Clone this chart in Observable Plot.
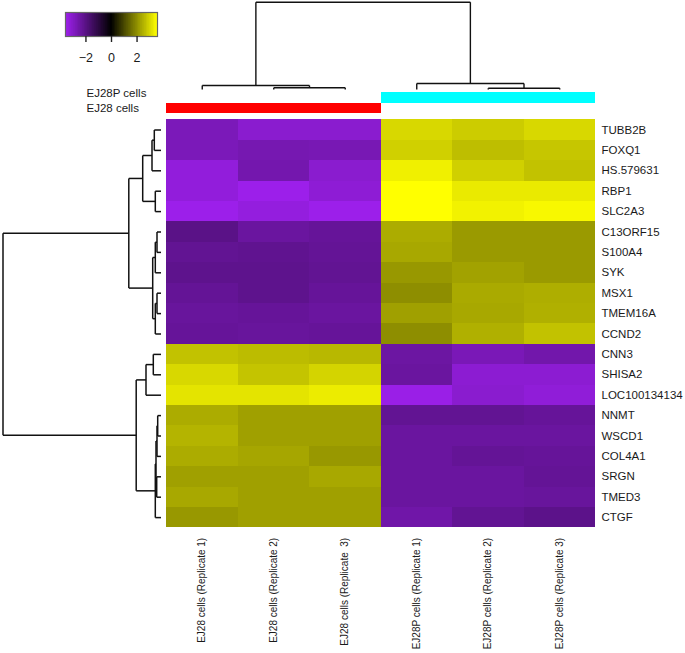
<!DOCTYPE html>
<html><head><meta charset="utf-8">
<script src="https://cdn.jsdelivr.net/npm/d3@7"></script>
<script src="https://cdn.jsdelivr.net/npm/@observablehq/plot@0.6"></script>
<style>
body{margin:0;background:#fff;}
#chart{position:relative;width:685px;height:653px;font-family:"Liberation Sans",Arial,sans-serif;}
#chart svg{position:absolute;left:0;top:0;}
#chart svg text{white-space:pre;}
</style></head><body><div id="chart"></div>
<script>
const W = 685, H = 653;
const FONT = "Liberation Sans, Arial, sans-serif";

const columns = ["EJ28 cells (Replicate 1)", "EJ28 cells (Replicate 2)", "EJ28 cells (Replicate  3)",
                 "EJ28P cells (Replicate 1)", "EJ28P cells (Replicate 2)", "EJ28P cells (Replicate 3)"];
const genes = ["TUBB2B","FOXQ1","HS.579631","RBP1","SLC2A3","C13ORF15","S100A4","SYK","MSX1","TMEM16A",
               "CCND2","CNN3","SHISA2","LOC100134134","NNMT","WSCD1","COL4A1","SRGN","TMED3","CTGF"];

const ej28_rep1  = [-2.77,-2.77,-3.29,-3.29,-3.51,-2.03,-2.21,-2.12,-2.25,-2.34,-2.30, 2.74, 3.05, 3.22, 2.43, 2.54, 2.43, 2.26, 2.37, 2.15];
const ej28_rep2  = [-3.11,-2.66,-2.61,-3.51,-3.33,-2.39,-2.16,-2.12,-2.12,-2.30,-2.34, 2.65, 2.77, 3.22, 2.26, 2.26, 2.34, 2.26, 2.26, 2.26];
const ej28_rep3  = [-3.11,-2.70,-3.11,-3.20,-3.51,-2.30,-2.25,-2.21,-2.30,-2.39,-2.30, 2.60, 2.99, 3.33, 2.26, 2.26, 2.15, 2.37, 2.26, 2.26];
const ej28p_rep1 = [ 3.05, 2.94, 3.39, 3.60, 3.60, 2.43, 2.37, 2.15, 2.00, 2.26, 2.00,-2.43,-2.39,-3.47,-2.21,-2.39,-2.39,-2.39,-2.39,-2.52];
const ej28p_rep2 = [ 2.88, 2.68, 2.94, 3.30, 3.42, 2.17, 2.17, 2.29, 2.40, 2.37, 2.49,-2.75,-3.15,-3.11,-2.21,-2.39,-2.25,-2.39,-2.39,-2.21];
const ej28p_rep3 = [ 3.05, 2.80, 2.74, 3.30, 3.50, 2.17, 2.17, 2.17, 2.46, 2.49, 2.74,-2.57,-3.15,-3.24,-2.30,-2.39,-2.30,-2.25,-2.34,-2.07];
const series = [ej28_rep1, ej28_rep2, ej28_rep3, ej28p_rep1, ej28p_rep2, ej28p_rep3];

const columnGroups = ["EJ28 cells","EJ28 cells","EJ28 cells","EJ28P cells","EJ28P cells","EJ28P cells"];
const groupNames = ["EJ28P cells","EJ28 cells"];
const groupColors = ["#00ffff","#ff0000"];

// hclust-style merges: negative = leaf (1-based), positive = earlier merge step; third = height
const colMerge = [[-2,-3,1.7],[-5,-6,1.3],[-1,1,4],[-4,2,6],[3,4,87.3]];
const rowMerge = [
  [-1,-2,6.7],[1,-3,9],[-4,-5,5.7],[2,3,18.3],
  [-6,-7,4],[5,-8,5.7],[-9,-10,4],[7,-11,5.7],[6,8,8.3],[4,9,32.2],
  [-12,-13,7.7],[11,-14,15],
  [-15,-16,3.3],[13,-17,4],[-18,-19,4.3],[14,15,5],[16,-20,5.7],[12,17,24.8],
  [10,18,158]
];

const keyTicks = [-2, 0, 2];
const colorDomain = [-3.6, 0, 3.6];
const colorRange = ["#a020f0", "#000000", "#ffff00"];

function dendroSegments(merge) {
  const nodes = [];
  const get = k => k < 0 ? {pos: -k - 1 + 0.5, h: 0} : nodes[k - 1];
  const segs = [];
  for (const [a, b, h] of merge) {
    const A = get(a), B = get(b);
    segs.push({p1: A.pos, h1: A.h, p2: A.pos, h2: h});
    segs.push({p1: B.pos, h1: B.h, p2: B.pos, h2: h});
    segs.push({p1: A.pos, h1: h, p2: B.pos, h2: h});
    nodes.push({pos: (A.pos + B.pos) / 2, h});
  }
  return segs;
}

const chart = document.getElementById("chart");
const overlay = {fontFamily: FONT, background: "none", overflow: "visible"};

// heatmap
const cells = [];
genes.forEach((g, i) => columns.forEach((c, j) => cells.push({gene: g, col: c, value: series[j][i]})));
chart.append(Plot.plot({
  width: W, height: H, marginLeft: 166, marginRight: 90, marginTop: 119.3, marginBottom: 125.7,
  style: {fontFamily: FONT, background: "white"},
  x: {domain: columns, padding: 0, round: false, label: null},
  y: {domain: genes, padding: 0, round: false, label: null},
  color: {type: "linear", domain: colorDomain, range: colorRange, interpolate: "rgb"},
  marks: [
    Plot.cell(cells, {x: "col", y: "gene", fill: "value", inset: 0, shapeRendering: "crispEdges"}),
    Plot.axisY({anchor: "right", tickSize: 0, tickPadding: 6, fontSize: 11.5, fill: "#1a1a1a", label: null}),
    Plot.axisX({anchor: "bottom", tickSize: 0, tickPadding: 10, tickRotate: -90, fontSize: 10, fill: "#1a1a1a", label: null})
  ]
}));

// column dendrogram
chart.append(Plot.plot({
  width: W, height: H, marginLeft: 166, marginRight: 90, marginTop: 1.7, marginBottom: H - 89,
  style: overlay,
  x: {domain: [0, 6], axis: null},
  y: {domain: [0, 87.3], axis: null},
  marks: [Plot.link(dendroSegments(colMerge), {x1: "p1", y1: "h1", x2: "p2", y2: "h2", stroke: "#111", strokeWidth: 1.4})]
}));

// row dendrogram
chart.append(Plot.plot({
  width: W, height: H, marginLeft: 2.5, marginRight: W - 160.5, marginTop: 119.3, marginBottom: 125.7,
  style: overlay,
  x: {domain: [0, 158], reverse: true, axis: null},
  y: {domain: [0, 20], reverse: true, axis: null},
  marks: [Plot.link(dendroSegments(rowMerge), {x1: "h1", y1: "p1", x2: "h2", y2: "p2", stroke: "#111", strokeWidth: 1.5})]
}));

// column side colours
chart.append(Plot.plot({
  width: W, height: H, marginLeft: 166, marginRight: 90, marginTop: 92.3, marginBottom: H - 112.7,
  style: overlay,
  x: {domain: columns, padding: 0, round: false, axis: null},
  y: {domain: groupNames, padding: 0, round: false, axis: null},
  color: {domain: groupNames, range: groupColors},
  marks: [Plot.cell(columns.map((c, j) => ({col: c, group: columnGroups[j]})), {x: "col", y: "group", fill: "group", inset: 0, shapeRendering: "crispEdges"})]
}));

// group labels
chart.append(Plot.plot({
  width: W, height: H, marginLeft: 86, marginRight: 500, marginTop: 85.8, marginBottom: H - 115.8,
  style: overlay,
  y: {type: "band", domain: groupNames, padding: 0, round: false, axis: null},
  marks: [Plot.text(groupNames, {y: d => d, text: d => d, frameAnchor: "left", textAnchor: "start", fontSize: 11.5, fill: "#1a1a1a"})]
}));

// colour key
const stops = d3.range(-3.6, 3.6, 0.05).map(v => ({x1: v, x2: Math.min(v + 0.06, 3.6), v: v + 0.025}));
chart.append(Plot.plot({
  width: W, height: H, marginLeft: 65, marginRight: W - 157, marginTop: 12, marginBottom: H - 36,
  style: overlay,
  x: {domain: [-3.6, 3.6], label: null},
  color: {type: "linear", domain: colorDomain, range: colorRange, interpolate: "rgb"},
  marks: [
    Plot.rect(stops, {x1: "x1", x2: "x2", fill: "v", shapeRendering: "crispEdges"}),
    Plot.frame({stroke: "#666", strokeWidth: 1.2}),
    Plot.axisX({ticks: keyTicks, tickSize: 6, tickPadding: 11, fontSize: 12.5, fill: "#1a1a1a", stroke: "#222", strokeWidth: 1.4,
                tickFormat: d => d < 0 ? "\u2212" + Math.abs(d) : String(d), label: null})
  ]
}));
</script></body></html>
